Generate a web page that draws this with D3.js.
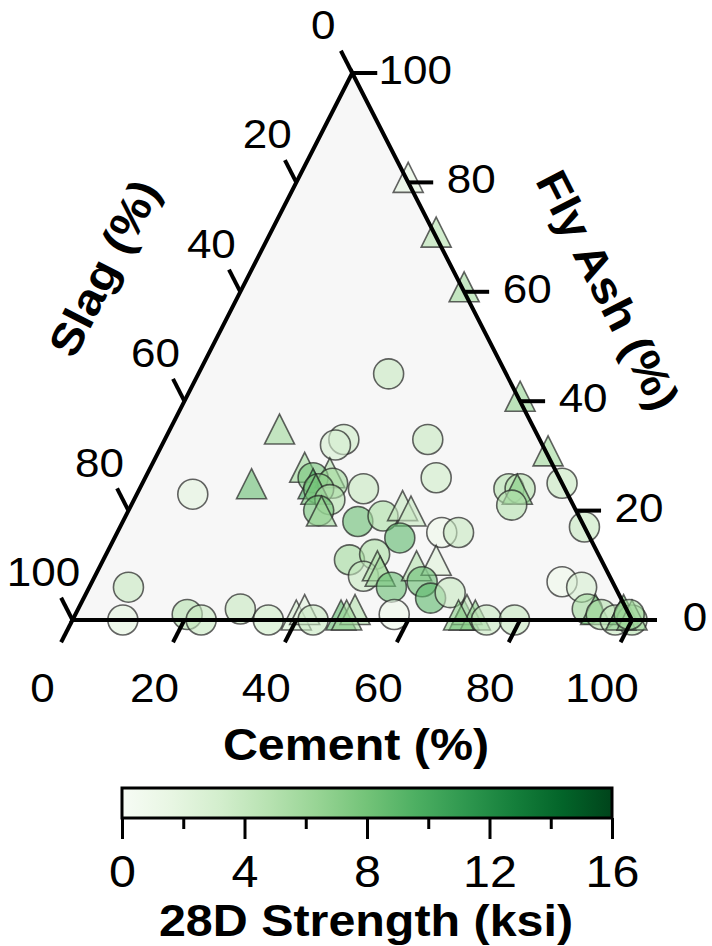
<!DOCTYPE html>
<html>
<head>
<meta charset="utf-8">
<script src="https://cdn.jsdelivr.net/npm/d3@7"></script>
<style>
  body { margin: 0; background: #fff; }
  text { font-family: "Liberation Sans", Arial, sans-serif; fill: #000; }
</style>
</head>
<body>
<div id="chart"></div>
<script>
// mix composition (%) and 28-day strength (ksi)
const cement = [20, 30, 40, 34, 60, 20, 32, 31, 47, 52,
                70, 10, 20, 75, 66, 68, 68, 68, 83, 28,
                33, 30, 34, 31, 32, 32, 35, 34, 35, 40,
                42, 46, 49, 51, 51, 58, 61, 44, 48, 48,
                50, 51, 54, 57, 57, 60, 59, 62, 65, 7,
                9, 20, 23, 29, 35, 40, 41, 43, 48, 50,
                49, 70, 70, 72, 69, 74, 79, 84, 88, 91,
                93, 94, 97, 98, 100, 98, 100, 99];
const slag = [0, 0, 0, 21, 0, 46, 35, 37, 20, 22,
              0, 67, 56, 0, 10, 8, 9, 11, 0, 45,
              41, 44, 41, 45, 44, 45, 43, 46, 46, 36,
              40, 35, 31, 30, 34, 26, 23, 45, 40, 44,
              41, 41, 40, 42, 34, 30, 34, 34, 30, 87,
              91, 79, 77, 69, 65, 60, 58, 57, 52, 49,
              51, 30, 29, 28, 31, 26, 21, 9, 6, 7,
              6, 5, 3, 1, 0, 2, 0, 0];
const flyAsh = [80, 70, 60, 45, 40, 34, 33, 32, 33, 26,
                30, 23, 24, 25, 24, 24, 23, 21, 17, 27,
                26, 26, 25, 24, 24, 23, 22, 20, 19, 24,
                18, 19, 20, 19, 15, 16, 16, 11, 12, 8,
                9, 8, 6, 1, 9, 10, 7, 4, 5, 6,
                0, 1, 0, 2, 0, 0, 1, 0, 0, 1,
                0, 0, 1, 0, 0, 0, 0, 7, 6, 2,
                1, 1, 0, 1, 0, 0, 0, 1];
const strength = [2, 5, 6, 4, 6.5, 6, 3.5, 3, 4, 3.5,
                  6, 2, 8.5, 4, 5, 5, 7, 5, 4, 6,
                  5, 8, 6, 10, 7, 8, 5, 8, 6, 4,
                  8.5, 5.5, 4, 4, 9, 1, 4, 6, 5.5, 4,
                  5, 6, 8.5, 1, 5, 2.5, 8.5, 9, 4, 4,
                  2, 5, 4, 4, 3.5, 3, 2, 4, 9, 5,
                  6, 9, 4, 7, 7, 4, 4, 1, 3, 6,
                  8, 5, 4, 8, 5, 7, 6, 6];
// c = circle, t = triangle
const marker = ("tttcttcccc" + "tctccctcct" + "tcctctcctc" + "ccttcccccc" +
                "ttccttcccc" + "cccccttctt" + "tttttccccc" + "tcctcttc").split("");

const axisTicks = [0, 20, 40, 60, 80, 100];
const barTicks = [0, 4, 8, 12, 16];
const barMinor = [2, 6, 10, 14];

const width = 712, height = 946;
const xLeft = 72.5, xRight = 632, yBase = 620, yApex = 73;
const xApex = (xLeft + xRight) / 2;

// ternary position: cement -> bottom-right, slag -> bottom-left, fly ash -> top
const xCem = d3.scaleLinear().domain([0, 100]).range([0, xRight - xLeft]);
const xFly = d3.scaleLinear().domain([0, 100]).range([0, xApex - xLeft]);
const yFly = d3.scaleLinear().domain([0, 100]).range([yBase, yApex]);
const px = (c, f) => xLeft + xCem(c) + xFly(f);
const py = f => yFly(f);

const color = d3.scaleSequential(d3.interpolateGreens).domain([0, 16]);

const svg = d3.select("#chart").append("svg")
    .attr("width", width)
    .attr("height", height);

const stretch = "scale(1.1,1)";

// triangle background
const corners = [[xLeft, yBase], [xRight, yBase], [xApex, yApex]];
svg.append("path")
    .attr("d", "M" + corners.join("L") + "Z")
    .attr("fill", "#f7f7f7");

// points
const tri = "M0,-20L15,10L-15,10Z";
const pts = svg.append("g");
cement.forEach((c, i) => {
    const x = px(c, flyAsh[i]), y = py(flyAsh[i]);
    const shape = marker[i] === "t"
        ? pts.append("path").attr("d", tri).attr("transform", `translate(${x},${y})`)
        : pts.append("circle").attr("cx", x).attr("cy", y).attr("r", 15);
    shape.attr("fill", color(strength[i]))
        .attr("fill-opacity", 0.6)
        .attr("stroke", "#222")
        .attr("stroke-opacity", 0.7)
        .attr("stroke-width", 1.6);
});

// frame
svg.append("path")
    .attr("d", "M" + corners.join("L") + "Z")
    .attr("fill", "none")
    .attr("stroke", "#000")
    .attr("stroke-width", 4)
    .attr("stroke-linejoin", "miter");

// ticks along the three sides
const len = Math.hypot(xApex - xLeft, yBase - yApex);
const ux = (xApex - xLeft) / len, uy = (yBase - yApex) / len;
const tickLen = 25;
const ticks = svg.append("g").attr("stroke", "#000").attr("stroke-width", 4);
const labels = svg.append("g").attr("font-size", 40).attr("text-anchor", "middle");

axisTicks.forEach(v => {
    // cement, bottom side
    let x = px(v, 0), y = py(0);
    ticks.append("line").attr("x1", x).attr("y1", y)
        .attr("x2", x - ux * tickLen).attr("y2", y + uy * tickLen);
    labels.append("text")
        .attr("transform", `translate(${x - 30},${y + 82}) ${stretch}`).text(v);

    // slag, left side
    x = px(0, 100 - v); y = py(100 - v);
    ticks.append("line").attr("x1", x).attr("y1", y)
        .attr("x2", x - ux * tickLen).attr("y2", y - uy * tickLen);
    labels.append("text")
        .attr("transform", `translate(${x - 29},${y - 34}) ${stretch}`).text(v);

    // fly ash, right side
    x = px(100 - v, v); y = py(v);
    ticks.append("line").attr("x1", x).attr("y1", y)
        .attr("x2", x + tickLen).attr("y2", y);
    labels.append("text")
        .attr("transform", `translate(${x + 63},${y + 11}) ${stretch}`).text(v);
});

// axis titles
const title = (x, y, rot, str) => svg.append("text")
    .attr("text-anchor", "middle")
    .attr("font-weight", "bold")
    .attr("font-size", 44)
    .attr("transform", `translate(${x},${y}) rotate(${rot}) ${stretch}`)
    .text(str);

const ang = Math.atan2(yBase - yApex, xApex - xLeft) * 180 / Math.PI;
title(356, 760, 0, "Cement (%)");
title(104, 268, -ang, "Slag (%)").attr("dy", "0.35em");
title(608, 290, ang, "Fly Ash (%)").attr("dy", "0.35em");

// colour bar
const bx = d3.scaleLinear().domain([0, 16]).range([122, 612]);
const barTop = 788, barH = 30;

const grad = svg.append("defs").append("linearGradient").attr("id", "greens");
d3.range(0, 1.01, 0.1).forEach(t => {
    grad.append("stop").attr("offset", t).attr("stop-color", d3.interpolateGreens(t));
});

svg.append("rect")
    .attr("x", bx(0)).attr("y", barTop)
    .attr("width", bx(16) - bx(0)).attr("height", barH)
    .attr("fill", "url(#greens)")
    .attr("stroke", "#000")
    .attr("stroke-width", 3);

const minorAxis = svg.append("g")
    .attr("transform", `translate(0,${barTop + barH})`)
    .call(d3.axisBottom(bx).tickValues(barMinor).tickSize(11).tickFormat(""));
const majorAxis = svg.append("g")
    .attr("transform", `translate(0,${barTop + barH})`)
    .call(d3.axisBottom(bx).tickValues(barTicks).tickSize(21).tickPadding(17));

[minorAxis, majorAxis].forEach(a => {
    a.select(".domain").remove();
    a.selectAll("line").attr("stroke", "#000").attr("stroke-width", 3);
});
majorAxis.selectAll("text")
    .attr("font-size", 44)
    .attr("font-family", "'Liberation Sans', Arial, sans-serif")
    .attr("fill", "#000")
    .attr("transform", stretch);

title(366, 936, 0, "28D Strength (ksi)");
</script>
</body>
</html>
